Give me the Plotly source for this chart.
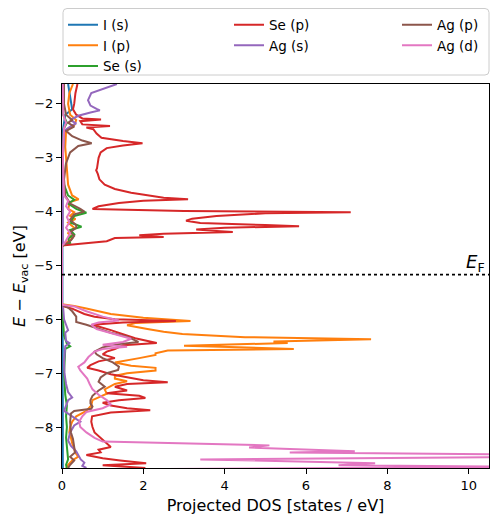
import plotly.graph_objects as go

# ---------------- data (energy in eV, DOS in states/eV) ----------------
fermi_level = -5.17

i_s_energy = [-1.63, -1.8, -2.0, -2.1, -2.2, -2.35, -2.5, -3.0, -4.0, -4.6, -4.63,
              -5.73, -6.0, -6.5, -7.0, -7.5, -8.0, -8.5, -8.76]
i_s_dos = [0.15, 0.18, 0.22, 0.25, 0.08, 0.05, 0.02, 0.01, 0.01, 0.01, 0.0,
           0.0, 0.01, 0.02, 0.01, 0.02, 0.02, 0.03, 0.02]

i_p_energy = [-1.63, -1.8, -2.0, -2.2, -2.3, -2.4, -2.5, -2.8, -3.2, -3.5, -3.7, -3.77, -3.82,
              -3.95, -4.01, -4.08, -4.14, -4.2, -4.3, -4.4, -4.5, -4.6, -4.63,
              -5.72, -5.75, -5.8, -5.9, -5.97, -6.03, -6.07, -6.11, -6.18, -6.23, -6.27,
              -6.33, -6.37, -6.41, -6.44, -6.49, -6.55, -6.58, -6.63, -6.66, -6.72, -6.76,
              -6.8, -6.86, -6.9, -6.95, -7.0, -7.05, -7.1, -7.15, -7.2, -7.3, -7.38, -7.45,
              -7.5, -7.6, -7.7, -7.8, -7.9, -8.0, -8.1, -8.2, -8.3, -8.4, -8.47, -8.55,
              -8.62, -8.7, -8.76]
i_p_dos = [0.27, 0.18, 0.15, 0.2, 0.35, 0.3, 0.1, 0.08, 0.12, 0.15, 0.25, 0.41, 0.2,
           0.15, 0.3, 0.2, 0.33, 0.15, 0.3, 0.15, 0.25, 0.05, 0.0,
           0.0, 0.3, 0.6, 1.2, 2.0, 3.16, 1.8, 1.6, 2.1, 2.5, 2.96,
           4.5, 7.6, 5.2, 5.55, 3.0, 5.7, 2.6, 2.3, 2.3, 1.9, 1.6,
           1.3, 1.7, 2.3, 2.3, 1.6, 1.3, 1.3, 1.6, 1.3, 1.05, 1.1, 0.9,
           0.75, 0.72, 0.6, 0.35, 0.25, 0.2, 0.18, 0.22, 0.25, 0.3, 0.32, 0.4,
           0.25, 0.15, 0.1]

se_s_energy = [-1.63, -2.2, -2.35, -2.45, -3.0, -3.5, -3.7, -3.78, -3.85, -3.95, -4.02,
               -4.08, -4.2, -4.28, -4.34, -4.42, -4.5, -4.58, -4.62, -4.64,
               -5.73, -6.0, -6.3, -6.45, -6.5, -6.55, -7.0, -7.4, -7.6, -7.8, -8.0,
               -8.2, -8.4, -8.6, -8.7, -8.76]
se_s_dos = [0.02, 0.03, 0.12, 0.05, 0.02, 0.05, 0.15, 0.3, 0.15, 0.35, 0.6,
            0.3, 0.2, 0.48, 0.2, 0.3, 0.15, 0.2, 0.05, 0.0,
            0.0, 0.03, 0.05, 0.12, 0.2, 0.08, 0.05, 0.08, 0.12, 0.1, 0.12,
            0.1, 0.12, 0.15, 0.1, 0.12]

se_p_energy = [-1.63, -1.8, -2.0, -2.1, -2.2, -2.27, -2.29, -2.32, -2.38, -2.41, -2.44,
               -2.47, -2.55, -2.63, -2.69, -2.73, -2.77, -2.82, -2.9, -3.0, -3.2, -3.23,
               -3.3, -3.4, -3.5, -3.58, -3.65, -3.71, -3.74, -3.77, -3.8, -3.84, -3.9,
               -3.95, -3.99, -4.01, -4.03, -4.08, -4.13, -4.17, -4.21, -4.25, -4.27,
               -4.3, -4.33, -4.36, -4.38, -4.41, -4.44, -4.47, -4.49, -4.55, -4.6, -4.63,
               -5.75, -5.8, -5.9, -5.95, -6.0, -6.03, -6.06, -6.1, -6.2, -6.3, -6.35,
               -6.44, -6.48, -6.55, -6.6, -6.65, -6.72, -6.78, -6.85, -6.9, -6.95, -7.02,
               -7.08, -7.13, -7.17, -7.2, -7.25, -7.32, -7.37, -7.42, -7.46, -7.5, -7.55,
               -7.6, -7.65, -7.69, -7.73, -7.8, -7.9, -8.0, -8.1, -8.2, -8.3, -8.37,
               -8.42, -8.47, -8.52, -8.58, -8.62, -8.67, -8.71, -8.76]
se_p_dos = [0.38, 0.33, 0.3, 0.27, 0.35, 0.5, 0.96, 0.45, 0.5, 1.18, 0.6,
            0.77, 0.85, 0.97, 1.5, 1.98, 1.5, 1.1, 0.95, 0.9, 0.86, 0.84,
            0.88, 0.92, 1.05, 1.3, 1.7, 2.2, 2.5, 3.1, 2.0, 1.4, 0.9,
            0.75, 3.0, 7.1, 5.0, 3.8, 3.2, 3.05, 3.4, 5.0, 5.83,
            4.0, 3.3, 3.8, 4.2, 2.5, 1.9, 2.5, 1.3, 1.1, 0.3, 0.0,
            0.0, 0.25, 0.55, 0.8, 1.3, 2.8, 1.5, 0.75, 1.2, 1.6, 1.8,
            2.33, 1.5, 1.3, 1.1, 1.0, 1.3, 0.9, 0.7, 0.62, 0.9, 1.2,
            1.6, 2.0, 2.6, 1.6, 1.3, 1.6, 1.1, 1.9, 2.05, 1.4, 1.0,
            1.2, 1.6, 2.17, 1.2, 0.74, 0.72, 0.75, 0.8, 0.95, 1.1, 1.2,
            0.9, 0.95, 0.6, 1.0, 1.43, 2.07, 1.0, 2.05]

ag_s_energy = [-1.63, -1.7, -1.8, -1.93, -2.03, -2.09, -2.12, -2.16, -2.22, -2.3, -2.36,
               -2.4, -2.5, -3.0, -4.0, -4.6, -4.63,
               -5.73, -5.8, -6.0, -6.1, -6.2, -6.25, -6.4, -6.44, -6.5, -6.8, -7.0, -7.2,
               -7.35, -7.45, -7.5, -7.6, -7.7, -7.8, -7.9, -7.97, -8.1, -8.25, -8.35,
               -8.45, -8.52, -8.6, -8.66, -8.72, -8.76]
ag_s_dos = [1.35, 1.1, 0.72, 0.64, 0.7, 0.85, 0.93, 0.7, 0.4, 0.2, 0.35,
            0.25, 0.05, 0.02, 0.03, 0.02, 0.0,
            0.0, 0.03, 0.05, 0.1, 0.15, 0.08, 0.1, 0.18, 0.08, 0.05, 0.06, 0.1,
            0.15, 0.25, 0.15, 0.1, 0.05, 0.25, 0.45, 0.3, 0.2, 0.15, 0.22,
            0.35, 0.4, 0.46, 0.55, 0.5, 0.6]

ag_p_energy = [-1.63, -2.0, -2.2, -2.3, -2.35, -2.42, -2.5, -2.6, -2.68, -2.73, -2.78,
               -2.9, -3.1, -3.4, -3.7, -3.85, -3.95, -4.0, -4.05, -4.15, -4.25, -4.3,
               -4.38, -4.45, -4.53, -4.6, -4.63,
               -5.73, -5.78, -5.85, -5.95, -6.05, -6.1, -6.17, -6.25, -6.32, -6.38, -6.42,
               -6.46, -6.52, -6.6, -6.65, -6.72, -6.8, -6.88, -6.94, -7.0, -7.08, -7.16,
               -7.25, -7.32, -7.42, -7.5, -7.56, -7.62, -7.66, -7.7, -7.75, -7.9, -8.1,
               -8.22, -8.35, -8.47, -8.55, -8.62, -8.7, -8.76]
ag_p_dos = [0.05, 0.05, 0.1, 0.25, 0.15, 0.3, 0.1, 0.25, 0.5, 0.73, 0.4,
            0.2, 0.1, 0.05, 0.08, 0.2, 0.45, 0.55, 0.3, 0.2, 0.35, 0.35,
            0.2, 0.3, 0.22, 0.1, 0.0,
            0.0, 0.15, 0.25, 0.35, 0.35, 0.6, 0.9, 1.2, 1.6, 1.75, 1.88,
            1.4, 1.0, 0.8, 0.85, 1.0, 1.25, 1.4, 1.38, 1.1, 0.95, 0.9,
            1.05, 0.9, 0.75, 0.7, 0.7, 0.75, 0.72, 0.3, 0.22, 0.2, 0.22,
            0.27, 0.3, 0.32, 0.2, 0.3, 0.2, 0.15]

ag_d_energy = [-1.63, -2.2, -2.35, -2.45, -3.0, -3.7, -3.8, -3.9, -4.0, -4.1, -4.2,
               -4.3, -4.4, -4.5, -4.6, -4.63,
               -5.73, -5.76, -5.85, -5.95, -6.02, -6.06, -6.1, -6.18, -6.24, -6.3, -6.36,
               -6.42, -6.47, -6.51, -6.55, -6.6, -6.7, -6.8, -6.88, -6.95, -7.0, -7.1,
               -7.2, -7.3, -7.4, -7.5, -7.58, -7.65, -7.72, -7.8, -7.9, -8.0, -8.1,
               -8.2, -8.27, -8.3, -8.34, -8.38, -8.45, -8.47, -8.51, -8.56, -8.6, -8.67,
               -8.71, -8.74, -8.78]
ag_d_dos = [0.02, 0.03, 0.1, 0.05, 0.02, 0.05, 0.15, 0.1, 0.2, 0.12, 0.18,
            0.1, 0.2, 0.12, 0.05, 0.0,
            0.0, 0.3, 0.6, 1.0, 1.4, 0.9, 0.72, 0.85, 1.15, 1.4, 1.7,
            1.5, 1.0, 1.6, 1.0, 0.8, 0.65, 0.55, 0.4, 0.45, 0.5, 0.62,
            0.68, 0.75, 0.9, 1.1, 1.2, 1.0, 0.6, 0.5, 0.42, 0.45, 0.6,
            0.8, 1.0, 2.5, 5.1, 4.6, 7.2, 5.6, 11.5, 11.0, 3.4, 7.7,
            6.8, 12.0, 2.2]

series_names = ["I (s)", "I (p)", "Se (s)", "Se (p)", "Ag (s)", "Ag (p)", "Ag (d)"]
series_colors = ["#1f77b4", "#ff7f0e", "#2ca02c", "#d62728", "#9467bd", "#8c564b", "#e377c2"]
series_legend = ["legend", "legend", "legend", "legend2", "legend2", "legend3", "legend3"]
series_data = [(i_s_energy, i_s_dos), (i_p_energy, i_p_dos), (se_s_energy, se_s_dos),
               (se_p_energy, se_p_dos), (ag_s_energy, ag_s_dos), (ag_p_energy, ag_p_dos),
               (ag_d_energy, ag_d_dos)]

x_ticks = [0, 2, 4, 6, 8, 10]
y_ticks = [-2, -3, -4, -5, -6, -7, -8]

# ---------------- figure ----------------
# the page body has an 8 px margin, so the figure is 8 px smaller in each direction
W, H = 490, 514
ML, MR, MT, MB = 54, 9, 76, 54
PW, PH = W - ML - MR, H - MT - MB


def px_to_paper_x(px):
    return (px - 8 - ML) / PW


def py_to_paper_y(py):
    return (H - MB - (py - 8)) / PH


fig = go.Figure()
for name, color, leg, (en, dos) in zip(series_names, series_colors, series_legend, series_data):
    fig.add_trace(go.Scatter(x=dos, y=en, mode="lines", name=name, legend=leg,
                             legendgroup=name,
                             line=dict(color=color, width=2)))

fig.add_shape(type="line", xref="paper", x0=0, x1=1, yref="y", y0=fermi_level, y1=fermi_level,
              line=dict(color="black", width=1.6, dash="dot"))
fig.add_annotation(x=10.45, y=fermi_level, xref="x", yref="y", text="<i>E</i><sub>F</sub>",
                   showarrow=False, xanchor="right", yanchor="bottom",
                   font=dict(size=18, color="black"), yshift=-2)

# legend frame with rounded corners
lx0, lx1 = px_to_paper_x(63), px_to_paper_x(489)
ly0, ly1 = py_to_paper_y(75), py_to_paper_y(8.5)
rx, ry = 4 / PW, 4 / PH
frame_path = (f"M {lx0 + rx} {ly1} L {lx1 - rx} {ly1} Q {lx1} {ly1} {lx1} {ly1 - ry} "
              f"L {lx1} {ly0 + ry} Q {lx1} {ly0} {lx1 - rx} {ly0} "
              f"L {lx0 + rx} {ly0} Q {lx0} {ly0} {lx0} {ly0 + ry} "
              f"L {lx0} {ly1 - ry} Q {lx0} {ly1} {lx0 + rx} {ly1} Z")
fig.add_shape(type="path", xref="paper", yref="paper", path=frame_path,
              line=dict(color="#cccccc", width=1), fillcolor="white", layer="below")

leg_common = dict(orientation="v", yanchor="top", xanchor="left", y=py_to_paper_y(9.5),
                  bgcolor="rgba(0,0,0,0)", borderwidth=0, tracegroupgap=0,
                  font=dict(size=13.5, color="black", family="DejaVu Sans"))
fig.update_layout(
    width=W, height=H,
    margin=dict(l=ML, r=MR, t=MT, b=MB, autoexpand=False),
    paper_bgcolor="white", plot_bgcolor="white",
    font=dict(family="DejaVu Sans", size=13, color="black"),
    legend=dict(x=px_to_paper_x(63), **leg_common),
    legend2=dict(x=px_to_paper_x(229), **leg_common),
    legend3=dict(x=px_to_paper_x(397), **leg_common),
    xaxis=dict(range=[0, 10.5], tickvals=x_ticks, ticks="outside", ticklen=5, tickcolor="black",
               showline=True, linecolor="black", linewidth=1, mirror=True, showgrid=False,
               zeroline=False, title=dict(text="Projected DOS [states / eV]", standoff=8),
               tickfont=dict(size=13)),
    yaxis=dict(range=[-8.76, -1.63], tickvals=y_ticks, ticks="outside", ticklen=5, tickcolor="black",
               showline=True, linecolor="black", linewidth=1, mirror=True, showgrid=False,
               zeroline=False, title=dict(text="<i>E</i> − <i>E</i><sub>vac</sub> [eV]", standoff=4),
               tickfont=dict(size=13)),
)

fig.write_html("out.html")
